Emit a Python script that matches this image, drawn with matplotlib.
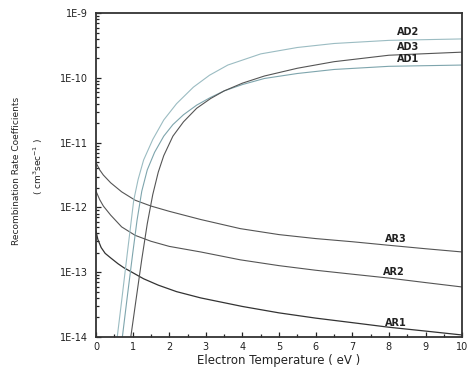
import numpy as np
import matplotlib
matplotlib.use("Agg")
import matplotlib.pyplot as plt
from matplotlib.ticker import LogLocator, MultipleLocator, FixedFormatter, FixedLocator

plt.rcParams['font.family'] = ['DejaVu Sans']

# recombination (AR) curves
ar_x = [0, 0.1, 0.2, 0.4, 0.7, 1.07, 1.5, 2, 2.86, 3.94, 5, 6, 7, 8, 9, 10]
ar3 = [4.9e-12, 3.8e-12, 3.16e-12, 2.4e-12, 1.74e-12, 1.29e-12, 1.05e-12, 8.7e-13,
       6.5e-13, 4.7e-13, 3.8e-13, 3.3e-13, 2.95e-13, 2.6e-13, 2.3e-13, 2.05e-13]
ar2 = [1.78e-12, 1.32e-12, 1.05e-12, 7.6e-13, 5.0e-13, 3.7e-13, 3.0e-13, 2.5e-13,
       2.05e-13, 1.55e-13, 1.26e-13, 1.07e-13, 9.3e-14, 8.1e-14, 6.9e-14, 5.9e-14]
ar1_x = [0, 0.05, 0.14, 0.25, 0.4, 0.6, 0.76, 0.95, 1.3, 1.7, 2.2, 2.86, 4, 5, 6, 7, 8, 9, 10]
ar1 = [4.3e-13, 3.2e-13, 2.4e-13, 1.95e-13, 1.66e-13, 1.35e-13, 1.17e-13, 1.02e-13,
       7.9e-14, 6.3e-14, 5.0e-14, 4.0e-14, 2.95e-14, 2.35e-14, 1.95e-14, 1.66e-14,
       1.41e-14, 1.23e-14, 1.07e-14]

# dielectronic (AD) curves
ad2_x = [0.58, 0.7, 0.85, 1.03, 1.15, 1.3, 1.55, 1.85, 2.2, 2.66, 3.1, 3.6, 4.5, 5.5,
         6.5, 8, 10]
ad2 = [1e-14, 3.6e-14, 1.86e-13, 1.29e-12, 2.7e-12, 5.4e-12, 1.12e-11, 2.24e-11, 4.0e-11,
       7.2e-11, 1.1e-10, 1.58e-10, 2.35e-10, 2.95e-10, 3.4e-10, 3.8e-10, 4.0e-10]
ad1_x = [0.72, 0.85, 1.0, 1.12, 1.25, 1.4, 1.6, 1.85, 2.1, 2.39, 2.75, 3.13, 3.5, 4.0,
         4.6, 5.5, 6.5, 8, 10]
ad1 = [1e-14, 4.0e-14, 1.9e-13, 6.3e-13, 1.78e-12, 3.8e-12, 7.1e-12, 1.26e-11, 1.9e-11,
       2.7e-11, 3.8e-11, 5.0e-11, 6.3e-11, 7.9e-11, 9.8e-11, 1.17e-10, 1.35e-10,
       1.51e-10, 1.58e-10]
ad3_x = [0.95, 1.1, 1.25, 1.4, 1.55, 1.7, 1.85, 2.1, 2.39, 2.75, 3.13, 3.5, 4.0, 4.6,
         5.5, 6.5, 8, 10]
ad3 = [1e-14, 4.0e-14, 1.58e-13, 5.6e-13, 1.58e-12, 3.5e-12, 6.3e-12, 1.26e-11, 2.1e-11,
       3.4e-11, 4.8e-11, 6.3e-11, 8.3e-11, 1.07e-10, 1.41e-10, 1.78e-10, 2.24e-10,
       2.5e-10]

y_ticks = [1e-14, 1e-13, 1e-12, 1e-11, 1e-10, 1e-9]
y_labels = ['1E-14', '1E-13', '1E-12', '1E-11', '1E-10', '1E-9']

fig = plt.figure(figsize=(4.73, 3.76), dpi=100)
ax = fig.add_axes([0.203, 0.104, 0.774, 0.861])

ax.plot(ar_x, ar3, color='#555555', lw=0.8)
ax.plot(ar_x, ar2, color='#555555', lw=0.8)
ax.plot(ar1_x, ar1, color='#333333', lw=0.9)
ax.plot(ad2_x, ad2, color='#9bbcc2', lw=0.8)
ax.plot(ad1_x, ad1, color='#7ea5ad', lw=0.8)
ax.plot(ad3_x, ad3, color='#555555', lw=0.8)

ax.set_yscale('log')
ax.set_xlim(0, 10)
ax.set_ylim(1e-14, 1e-9)

ax.yaxis.set_major_locator(FixedLocator(y_ticks))
ax.yaxis.set_major_formatter(FixedFormatter(y_labels))
ax.yaxis.set_minor_locator(LogLocator(base=10, subs=np.arange(2, 10)))
ax.yaxis.set_minor_formatter(plt.NullFormatter())
ax.xaxis.set_major_locator(MultipleLocator(1))
ax.xaxis.set_minor_locator(MultipleLocator(0.5))

ax.tick_params(which='both', direction='in', top=False, right=False, labelsize=7,
               width=0.9, color='#222222', labelcolor='#222222')
ax.tick_params(which='major', length=3.5)
ax.tick_params(which='minor', length=2)
ax.tick_params(axis='x', pad=4)
ax.tick_params(axis='y', pad=6)

for side in ['left', 'bottom', 'top', 'right']:
    ax.spines[side].set_linewidth(1.3)
    ax.spines[side].set_color('#333333')

fig.text(0.59, 0.04, 'Electron Temperature ( eV )', fontsize=8.5, ha='center',
         va='center', color='#222222')
fig.text(0.034, 0.545, 'Recombination Rate Coefficients', fontsize=6.5, rotation=90,
         ha='center', va='center', color='#222222')
fig.text(0.080, 0.556, '( cm$^3$sec$^{-1}$ )', fontsize=6.5, rotation=90,
         ha='center', va='center', color='#222222')

lbl = dict(fontsize=7, fontweight='bold', color='#222222', ha='left', va='center')
ax.text(8.23, 5.1e-10, 'AD2', **lbl)
ax.text(8.23, 3.0e-10, 'AD3', **lbl)
ax.text(8.23, 1.95e-10, 'AD1', **lbl)
ax.text(7.9, 3.2e-13, 'AR3', **lbl)
ax.text(7.85, 1.0e-13, 'AR2', **lbl)
ax.text(7.9, 1.66e-14, 'AR1', **lbl)

fig.savefig('out.png', dpi=100)
